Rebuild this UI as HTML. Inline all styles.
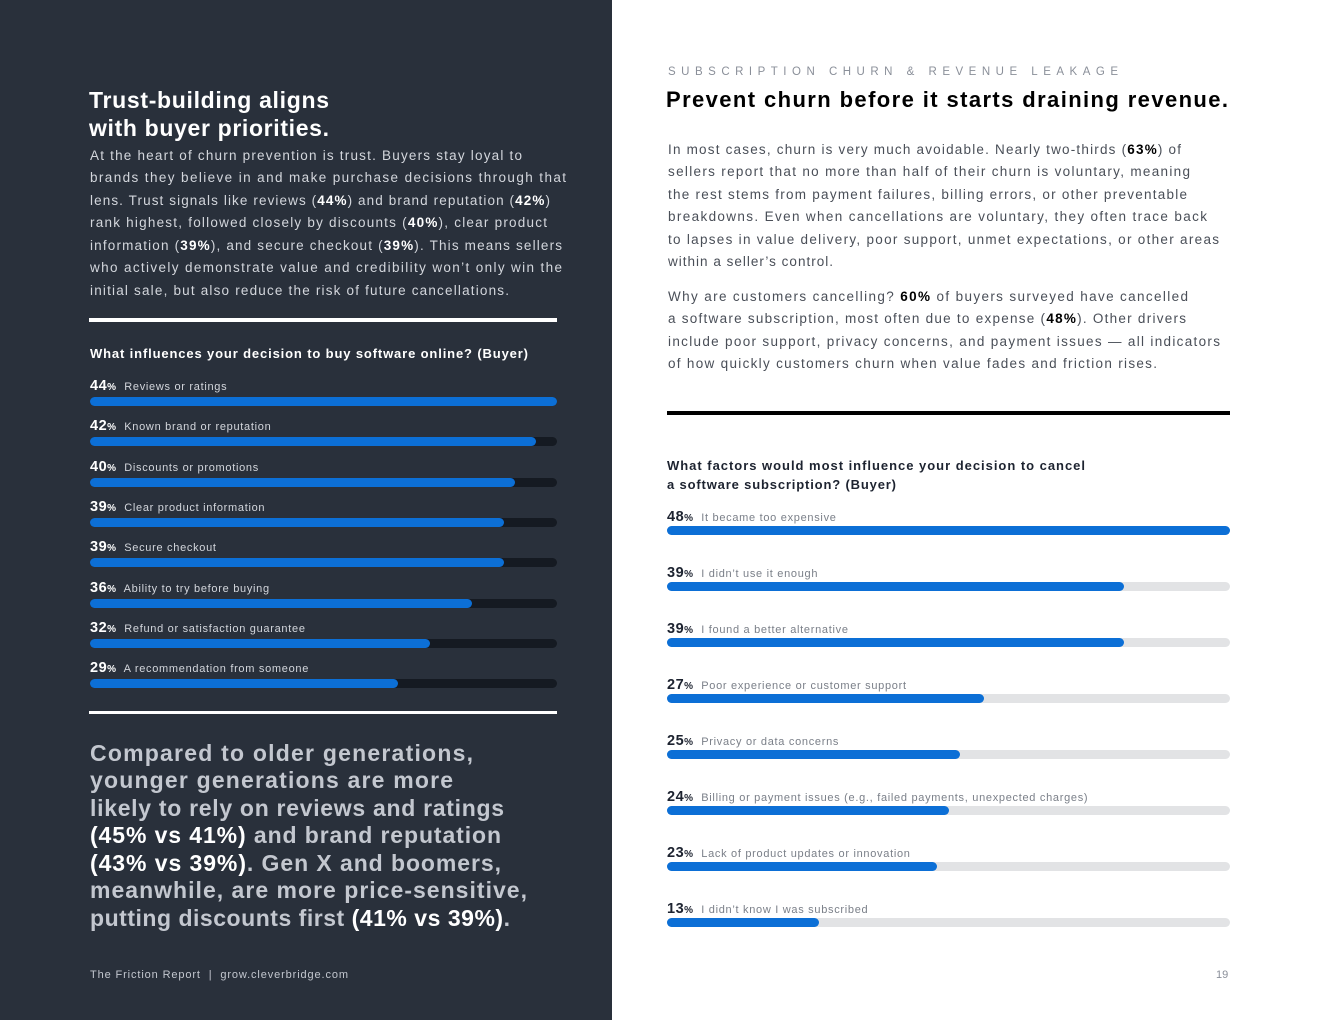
<!DOCTYPE html>
<html><head><meta charset="utf-8">
<style>
body{margin:0;width:1320px;height:1020px;position:relative;background:#fff;font-family:"Liberation Sans",sans-serif;overflow:hidden}
#left{position:absolute;left:0;top:0;width:612px;height:1020px;background:#29303b}
.t{position:absolute;white-space:nowrap;line-height:1;margin-top:1px}
.fit{transform-origin:0 50%}
b{font-weight:700}
.lb{color:#d3d6dc;font-size:13.5px}
.lb b{color:#fff}
.q{color:#c3c7cf;font-size:23px;font-weight:700}
.q b{color:#fff}
.rb{color:#4a4f58;font-size:13.5px}
.rb b{color:#000}
</style></head><body>
<div id="left"></div>

<div class="t fit" data-w="240" style="left:89px;top:88px;font-size:23px;font-weight:700;color:#fff">Trust-building aligns</div>
<div class="t fit" data-w="240" style="left:89px;top:116px;font-size:23px;font-weight:700;color:#fff">with buyer priorities.</div>

<div class="t fit lb" data-w="432" style="left:90px;top:148px">At the heart of churn prevention is trust. Buyers stay loyal to</div>
<div class="t fit lb" data-w="476" style="left:90px;top:170px">brands they believe in and make purchase decisions through that</div>
<div class="t fit lb" data-w="460" style="left:90px;top:193px">lens. Trust signals like reviews (<b>44%</b>) and brand reputation (<b>42%</b>)</div>
<div class="t fit lb" data-w="457" style="left:90px;top:215px">rank highest, followed closely by discounts (<b>40%</b>), clear product</div>
<div class="t fit lb" data-w="472" style="left:90px;top:238px">information (<b>39%</b>), and secure checkout (<b>39%</b>). This means sellers</div>
<div class="t fit lb" data-w="472" style="left:90px;top:260px">who actively demonstrate value and credibility won’t only win the</div>
<div class="t fit lb" data-w="419" style="left:90px;top:283px">initial sale, but also reduce the risk of future cancellations.</div>

<div style="position:absolute;left:89px;top:318px;width:468px;height:4px;background:#fff"></div>
<div class="t fit" data-w="438" style="left:90px;top:346px;font-size:13px;font-weight:700;color:#fff">What influences your decision to buy software online? (Buyer)</div>
<div id="lchart"></div>
<div style="position:absolute;left:89px;top:711px;width:468px;height:3px;background:#fff"></div>

<div class="t fit q" data-w="383" style="left:90px;top:741px">Compared to older generations,</div>
<div class="t fit q" data-w="363" style="left:90px;top:768px">younger generations are more</div>
<div class="t fit q" data-w="414" style="left:90px;top:796px">likely to rely on reviews and ratings</div>
<div class="t fit q" data-w="411" style="left:90px;top:823px"><b>(45% vs 41%)</b> and brand reputation</div>
<div class="t fit q" data-w="411" style="left:90px;top:851px"><b>(43% vs 39%)</b>. Gen X and boomers,</div>
<div class="t fit q" data-w="437" style="left:90px;top:878px">meanwhile, are more price-sensitive,</div>
<div class="t fit q" data-w="420" style="left:90px;top:906px">putting discounts first <b>(41% vs 39%)</b>.</div>

<div class="t fit" data-w="258" style="left:90px;top:969px;font-size:11px;color:#c3c7cf">The Friction Report &nbsp;|&nbsp; grow.cleverbridge.com</div>

<div class="t fit" data-w="450" style="left:668px;top:66px;font-size:11.5px;color:#8a8f99">SUBSCRIPTION CHURN &amp; REVENUE LEAKAGE</div>
<div class="t fit" data-w="562" style="left:666px;top:88px;font-size:22px;font-weight:700;color:#000">Prevent churn before it starts draining revenue.</div>

<div class="t fit rb" data-w="513" style="left:668px;top:142px">In most cases, churn is very much avoidable. Nearly two-thirds (<b>63%</b>) of</div>
<div class="t fit rb" data-w="522" style="left:668px;top:164px">sellers report that no more than half of their churn is voluntary, meaning</div>
<div class="t fit rb" data-w="519" style="left:668px;top:187px">the rest stems from payment failures, billing errors, or other preventable</div>
<div class="t fit rb" data-w="539" style="left:668px;top:209px">breakdowns. Even when cancellations are voluntary, they often trace back</div>
<div class="t fit rb" data-w="551" style="left:668px;top:232px">to lapses in value delivery, poor support, unmet expectations, or other areas</div>
<div class="t fit rb" data-w="165" style="left:668px;top:254px">within a seller’s control.</div>

<div class="t fit rb" data-w="520" style="left:668px;top:289px">Why are customers cancelling? <b>60%</b> of buyers surveyed have cancelled</div>
<div class="t fit rb" data-w="518" style="left:668px;top:311px">a software subscription, most often due to expense (<b>48%</b>). Other drivers</div>
<div class="t fit rb" data-w="552" style="left:668px;top:334px">include poor support, privacy concerns, and payment issues — all indicators</div>
<div class="t fit rb" data-w="489" style="left:668px;top:356px">of how quickly customers churn when value fades and friction rises.</div>

<div style="position:absolute;left:667px;top:411px;width:563px;height:4px;background:#000"></div>
<div class="t fit" data-w="418" style="left:667px;top:458px;font-size:13px;font-weight:700;color:#1d2330">What factors would most influence your decision to cancel</div>
<div class="t fit" data-w="229" style="left:667px;top:477px;font-size:13px;font-weight:700;color:#1d2330">a software subscription? (Buyer)</div>
<div id="rchart"></div>
<div class="t" style="left:1216px;top:969px;font-size:11px;color:#8a8f99">19</div>

<script>
const leftCats=["Reviews or ratings","Known brand or reputation","Discounts or promotions","Clear product information","Secure checkout","Ability to try before buying","Refund or satisfaction guarantee","A recommendation from someone"];
const leftVals=[44,42,40,39,39,36,32,29];
const rightCats=["It became too expensive","I didn’t use it enough","I found a better alternative","Poor experience or customer support","Privacy or data concerns","Billing or payment issues (e.g., failed payments, unexpected charges)","Lack of product updates or innovation","I didn’t know I was subscribed"];
const rightVals=[48,39,39,27,25,24,23,13];

function drawChart(id,cats,vals,o){
  const root=document.getElementById(id);
  const max=Math.max(...vals);
  const x=v=>v/max*o.w;
  cats.forEach((c,i)=>{
    const y=o.y0+i*o.step;
    const lab=document.createElement('div');
    lab.className='t';
    lab.style.cssText=`left:${o.x}px;top:${y+1}px;font-size:11px;color:${o.labColor};letter-spacing:0.7px`;
    lab.innerHTML=`<span style="font-size:14.5px;font-weight:700;color:${o.numColor};letter-spacing:0.5px">${vals[i]}</span><b style="font-size:10px;color:${o.numColor}">%</b>&nbsp; ${c}`;
    
    
    root.appendChild(lab);
    const tr=document.createElement('div');
    tr.style.cssText=`position:absolute;left:${o.x}px;top:${y+o.barOff}px;width:${o.w}px;height:${o.h}px;border-radius:5px;background:${o.track}`;
    
    
    root.appendChild(tr);
    const b=document.createElement('div');
    b.style.cssText=`position:absolute;left:${o.x}px;top:${y+o.barOff}px;width:${x(vals[i])}px;height:${o.h}px;border-radius:5px;background:#0c6fd6`;
    
    
    root.appendChild(b);
  });
}
drawChart('lchart',leftCats,leftVals,{x:90,y0:377,step:40.3,w:467,h:9,barOff:20,track:'#151a22',labColor:'#d3d6dc',numColor:'#fff'});
drawChart('rchart',rightCats,rightVals,{x:667,y0:508,step:56,w:563,h:9,barOff:18,track:'#e2e3e5',labColor:'#7a7f88',numColor:'#1d2330'});

document.querySelectorAll('.fit').forEach(el=>{
  const target=+el.getAttribute('data-w');
  const n=el.textContent.length;
  const w=el.getBoundingClientRect().width;
  if(n>1){el.style.letterSpacing=((target-w)/(n-1))+'px';}
});
</script>
</body></html>
